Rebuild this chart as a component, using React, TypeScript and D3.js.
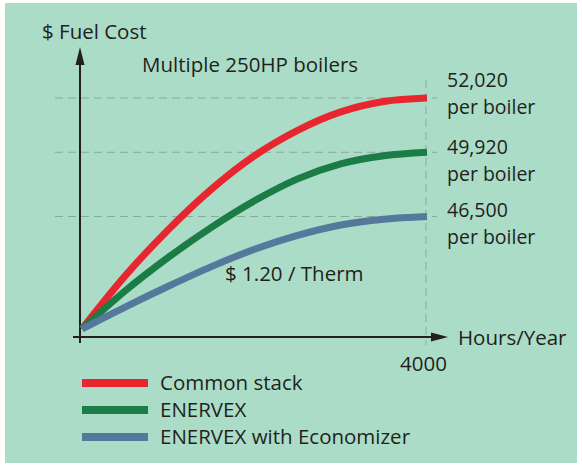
import React from 'react';
import * as d3 from 'd3';

// hours/year sampled along the curves
const hours = [0, 500, 1000, 1500, 2000, 2500, 3000, 3500, 4000];

// relative fuel cost (schematic, 0..100 of the chart height)
const commonStack = [0, 23, 43, 60.5, 75, 86, 94, 98.5, 100];
const enervex = [0, 16.5, 31, 44, 55.5, 65, 71.5, 75, 76.5];
const enervexEconomizer = [0, 9.5, 18.5, 27, 34.5, 40.5, 45, 47.5, 48.7];

const seriesNames = ['Common stack', 'ENERVEX', 'ENERVEX with Economizer'];
const seriesColors = ['#e8262f', '#1b7d45', '#55799d'];
const endValues = ['52,020', '49,920', '46,500'];
const xTickLabels = ['4000'];

const W = 582;
const H = 466;
const FONT = '"Open Sans", sans-serif';
const INK = '#231f20';
const FS = 20.5;

const App: React.FC = () => {
  const x = d3.scaleLinear().domain([0, 4000]).range([82, 427]);
  const y = d3.scaleLinear().domain([0, 100]).range([329, 98]);

  const series = [commonStack, enervex, enervexEconomizer];
  const line = d3
    .line<number>()
    .x((_d, i) => x(hours[i]))
    .y((d) => y(d))
    .curve(d3.curveMonotoneX);

  const axisX0 = 80;
  const axisY0 = 337;
  // label baseline offsets from the end of each curve
  const labelShift = [-11, 2, 0];

  return (
    <svg
      width={W}
      height={H}
      style={{ position: 'absolute', left: 0, top: 0, display: 'block' }}
      fontFamily={FONT}
    >
      <rect x={0} y={0} width={W} height={H} fill="#ffffff" />
      <rect x={5} y={3} width={572} height={460} fill="#abdcc7" />

      {/* guide lines */}
      {series.map((s, i) => (
        <line
          key={'g' + i}
          x1={55}
          x2={437}
          y1={y(s[s.length - 1])}
          y2={y(s[s.length - 1])}
          stroke="#8ba99b"
          strokeWidth={1}
          strokeDasharray="8 5"
        />
      ))}
      <line
        x1={x(4000) - 1}
        x2={x(4000) - 1}
        y1={80}
        y2={345}
        stroke="#8ba99b"
        strokeWidth={1}
        strokeDasharray="8 5"
      />

      {/* axes */}
      <line x1={axisX0} x2={axisX0} y1={343} y2={62} stroke={INK} strokeWidth={2} />
      <path d={`M${axisX0},47 L${axisX0 - 4.5},65 L${axisX0 + 4.5},65 Z`} fill={INK} />
      <line x1={73} x2={435} y1={axisY0} y2={axisY0} stroke={INK} strokeWidth={2} />
      <path d={`M448,${axisY0} L431,${axisY0 - 4.5} L431,${axisY0 + 4.5} Z`} fill={INK} />

      {/* curves */}
      {series.map((s, i) => (
        <path
          key={'s' + i}
          d={line(s) ?? ''}
          fill="none"
          stroke={seriesColors[i]}
          strokeWidth={7}
          strokeLinecap="butt"
        />
      ))}

      {/* texts */}
      <text x={42} y={39} fontSize={FS} fill={INK}>$ Fuel Cost</text>
      <text x={142} y={72} fontSize={FS} fill={INK}>Multiple 250HP boilers</text>
      <text x={225} y={281} fontSize={FS} fill={INK}>$ 1.20 / Therm</text>
      <text x={458} y={345} fontSize={FS} fill={INK}>Hours/Year</text>
      {xTickLabels.map((t) => (
        <text key={t} x={x(4000) + 20} y={371} fontSize={FS} fill={INK} textAnchor="end">
          {t}
        </text>
      ))}
      {endValues.map((v, i) => {
        const s = series[i];
        const yy = y(s[s.length - 1]) + labelShift[i];
        return (
          <g key={'e' + i} fontSize={19.5} fill={INK}>
            <text x={447} y={yy}>{v}</text>
            <text x={447} y={yy + 27}>per boiler</text>
          </g>
        );
      })}

      {/* legend */}
      {seriesNames.map((n, i) => (
        <g key={'l' + i} transform={`translate(82,${383 + i * 27})`}>
          <line x1={0} x2={66} y1={0} y2={0} stroke={seriesColors[i]} strokeWidth={8} />
          <text x={78} y={7} fontSize={FS} fill={INK}>{n}</text>
        </g>
      ))}
    </svg>
  );
};

export default App;
